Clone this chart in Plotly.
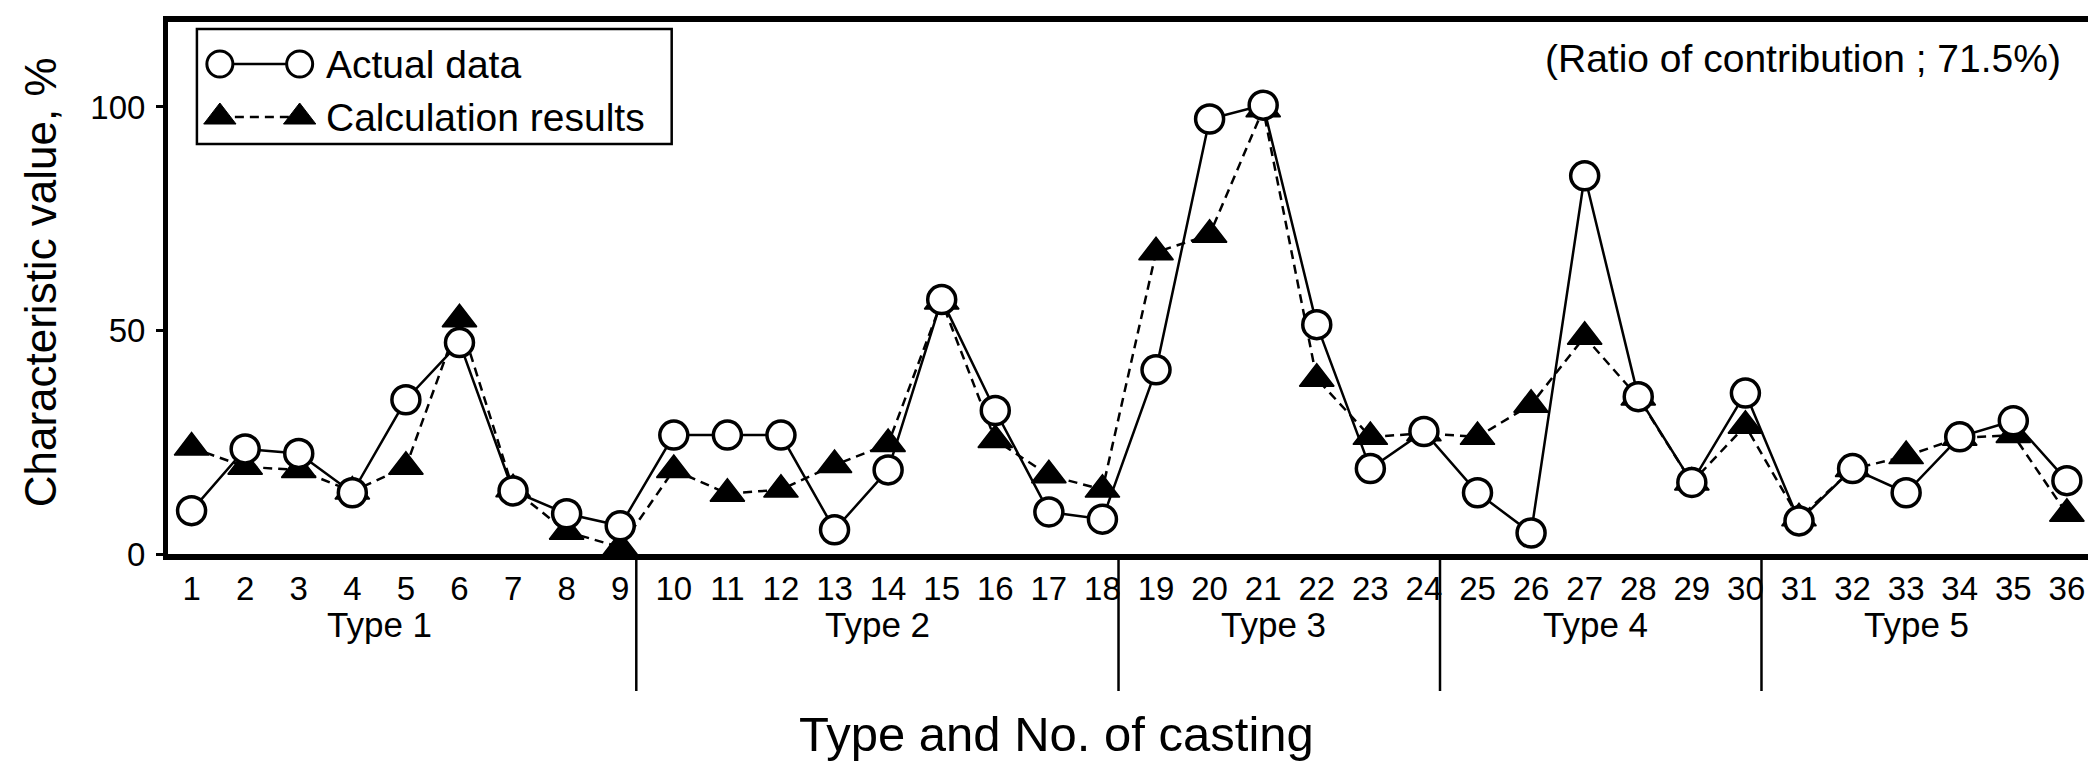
import plotly.graph_objects as go

# ---------------- data ----------------
casting_no = list(range(1, 37))
actual_data = [9.7, 23.5, 22.5, 13.7, 34.5, 47.3, 14.1, 9.0, 6.3,
               26.6, 26.6, 26.6, 5.4, 18.8, 56.9, 32.1, 9.4, 7.8,
               41.2, 97.3, 100.4, 51.3, 19.1, 27.4,
               13.7, 4.7, 84.6, 35.2, 16.0, 36.0,
               7.4, 19.1, 13.7, 26.2, 29.8, 16.4]
calc_results = [23.8, 19.5, 18.8, 14.0, 19.5, 52.5, 14.5, 5.0, 1.5,
                18.8, 13.5, 14.4, 19.9, 24.6, 56.5, 25.5, 17.6, 14.4,
                67.5, 71.4, 99.5, 39.2, 26.2, 27.0,
                26.2, 33.4, 48.6, 35.0, 16.0, 28.7,
                8.0, 19.0, 21.9, 26.0, 26.6, 9.0]
type_names = ["Type 1", "Type 2", "Type 3", "Type 4", "Type 5"]
type_last_no = [9, 18, 24, 30, 36]
y_ticks = [0, 50, 100]

# ---------------- style / layout constants ----------------
W, H = 2096, 769
L, R, T, B = 160, 8, 14, 223
FONT = "Liberation Sans, Arial, Helvetica, sans-serif"
type_label_x = [4.5, 13.8, 21.2, 27.2, 33.2]
sep_offset = 0.3
PW = W - L - R
PH = H - T - B

fig = go.Figure()

# calculation results (drawn first so circles sit on top)
fig.add_trace(go.Scatter(
    x=casting_no, y=calc_results, mode="lines+markers",
    line=dict(color="black", width=2.5, dash="9px,6px"),
    marker=dict(symbol="triangle-up", size=30, color="black",
                line=dict(color="black", width=1.5)),
    showlegend=False, cliponaxis=False))
# actual data
fig.add_trace(go.Scatter(
    x=casting_no, y=actual_data, mode="lines+markers",
    line=dict(color="black", width=2.5),
    marker=dict(symbol="circle", size=28, color="white",
                line=dict(color="black", width=3.5)),
    showlegend=False, cliponaxis=False))

# ---- hand-drawn legend on a pixel overlay axis ----
fig.add_trace(go.Scatter(
    x=[212, 292], y=[56, 56], mode="lines+markers", xaxis="x2", yaxis="y2",
    line=dict(color="black", width=2.5),
    marker=dict(symbol="circle", size=26, color="white",
                line=dict(color="black", width=3)),
    showlegend=False, hoverinfo="skip"))
fig.add_trace(go.Scatter(
    x=[212, 292], y=[109, 109], mode="lines+markers", xaxis="x2", yaxis="y2",
    line=dict(color="black", width=2.5, dash="9px,6px"),
    marker=dict(symbol="triangle-up", size=28, color="black",
                line=dict(color="black", width=1)),
    showlegend=False, hoverinfo="skip"))

shapes = [dict(type="rect", xref="x2", yref="y2", x0=189, x1=665, y0=21, y1=136,
               line=dict(color="black", width=2.5))]
for n in type_last_no[:-1]:
    shapes.append(dict(type="line", xref="x", yref="paper",
                       x0=n + sep_offset, x1=n + sep_offset, y0=0,
                       y1=-(683 - (H - B)) / PH,
                       line=dict(color="black", width=2.5)))

annotations = [
    dict(xref="x2", yref="y2", x=316, y=56, text="Actual data", showarrow=False,
         xanchor="left", yanchor="middle", font=dict(size=39, color="black", family=FONT)),
    dict(xref="x2", yref="y2", x=316, y=109, text="Calculation results", showarrow=False,
         xanchor="left", yanchor="middle", font=dict(size=39, color="black", family=FONT)),
    dict(xref="x2", yref="y2", x=2060, y=50, text="(Ratio of contribution ; 71.5%)",
         showarrow=False, xanchor="right", yanchor="middle",
         font=dict(size=39, color="black", family=FONT)),
    dict(xref="paper", yref="paper", x=(1051 - L) / PW, y=-(726 - (H - B)) / PH,
         text="Type and No. of casting", showarrow=False, xanchor="center", yanchor="middle",
         font=dict(size=49, color="black", family=FONT)),
    dict(xref="paper", yref="paper", x=(32 - L) / PW, y=1 - (274 - T) / PH,
         text="Characteristic value, %", showarrow=False, textangle=-90,
         xanchor="center", yanchor="middle",
         font=dict(size=44, color="black", family=FONT)),
]
for name, xpos in zip(type_names, type_label_x):
    annotations.append(dict(xref="x", yref="paper", x=xpos, y=-(616 - (H - B)) / PH, text=name,
                            showarrow=False, xanchor="center", yanchor="middle",
                            font=dict(size=35, color="black", family=FONT)))

fig.update_layout(
    width=W, height=H,
    margin=dict(l=L, r=R, t=T, b=B),
    paper_bgcolor="white", plot_bgcolor="white",
    font=dict(family=FONT, color="black"),
    xaxis=dict(range=[0.56, 36.45], tickmode="array", tickvals=casting_no,
               ticktext=[str(v) for v in casting_no], ticks="",
               showgrid=False, zeroline=False,
               showline=True, linecolor="black", linewidth=6, mirror=True,
               tickfont=dict(size=33, family=FONT, color="black"),
               ticklabelstandoff=0),
    yaxis=dict(range=[0, 119], tickmode="array", tickvals=y_ticks,
               ticks="outside", ticklen=7, tickwidth=3, tickcolor="black",
               showgrid=False, zeroline=False,
               showline=True, linecolor="black", linewidth=5, mirror=True,
               ticklabelstandoff=4,
               tickfont=dict(size=33, family=FONT, color="black")),
    xaxis2=dict(range=[L, W - R], overlaying="x", anchor="y2", visible=False),
    yaxis2=dict(range=[H - B, T], overlaying="y", anchor="x2", visible=False),
    shapes=shapes, annotations=annotations,
    showlegend=False,
)

fig.write_html("out.html")
